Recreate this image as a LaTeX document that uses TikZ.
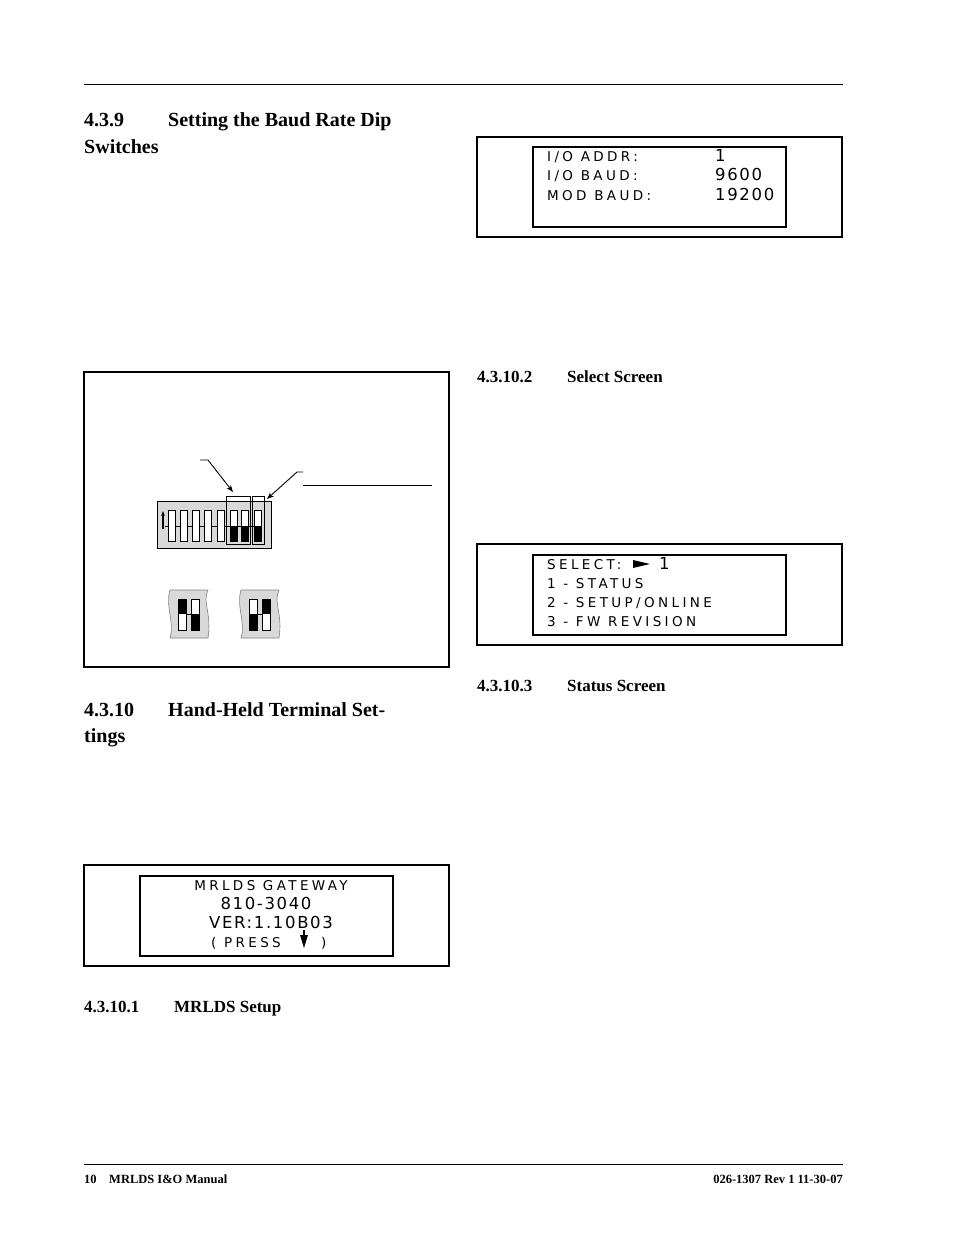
\documentclass[tikz,border=0pt]{standalone}
\usepackage{fontspec}
\usetikzlibrary{arrows.meta}
\setmainfont{Liberation Serif}
\newfontfamily\lcd[LetterSpace=25]{DejaVu Sans}
\newfontfamily\lcdn[LetterSpace=10]{DejaVu Sans}
\begin{document}
\begin{tikzpicture}[x=1pt,y=-1pt,
  head/.style={anchor=base west,font=\fontsize{20}{20}\selectfont\bfseries,inner sep=0},
  sub/.style={anchor=base west,font=\fontsize{17}{17}\selectfont\bfseries,inner sep=0},
  foot/.style={font=\fontsize{12.5}{12.5}\selectfont\bfseries,inner sep=0},
  lcdt/.style={anchor=base west,font=\fontsize{13.5}{13.5}\lcd,inner sep=0},
  lcdv/.style={anchor=base west,font=\fontsize{16.5}{16.5}\lcdn,inner sep=0},
  outer/.style={draw,line width=2pt},
  inner/.style={draw,line width=1.6pt},
  sw/.style={draw,fill=white,line width=0.8pt},
  bl/.style={fill=black}]
\useasboundingbox (0,0) rectangle (954,1235);
\draw[line width=0.8pt] (84,84) -- (843,84);
% headings
\node[head] (h1a) at (84,126) {4.3.9};
\node[head] (h1b) at (168,126) {Setting the Baud Rate Dip};
\node[head] (h1c) at (84,153) {Switches};
\node[head] (h2a) at (84,716) {4.3.10};
\node[head] (h2b) at (168,716) {Hand-Held Terminal Set-};
\node[head] (h2c) at (84,742) {tings};
\node[sub] (s1a) at (84,1012) {4.3.10.1};
\node[sub] (s1b) at (174,1012) {MRLDS Setup};
\node[sub] (s2a) at (477,382) {4.3.10.2};
\node[sub] (s2b) at (567,382) {Select Screen};
\node[sub] (s3a) at (477,691) {4.3.10.3};
\node[sub] (s3b) at (567,691) {Status Screen};
% footer
\draw[line width=0.8pt] (84,1164) -- (843,1164);
\node[foot,anchor=base west] (f1) at (84,1183) {10\quad MRLDS I\&O Manual};
\node[foot,anchor=base east] (f2) at (843,1183) {026-1307 Rev 1 11-30-07};
% box 1 (I/O)
\draw[outer] (477,137) rectangle (842,237);
\draw[inner] (533,147) rectangle (786,227);
\node[lcdt] (a1) at (547,161) {I/O ADDR:};
\node[lcdt] (a2) at (547,180) {I/O BAUD:};
\node[lcdt] (a3) at (547,200) {MOD BAUD:};
\node[lcdv] (v1) at (715,161) {1};
\node[lcdv] (v2) at (715,180) {9600};
\node[lcdv] (v3) at (715,200) {19200};
% select box
\draw[outer] (477,544) rectangle (842,645);
\draw[inner] (533,555) rectangle (786,635);
\node[lcdt] (b1) at (547,569) {SELECT:};
\fill (633,560) -- (650,564) -- (633,568) -- cycle;
\node[lcdv] (b1v) at (659,569) {1};
\node[lcdt] (b2) at (547,588) {1 - STATUS};
\node[lcdt] (b3) at (547,607) {2 - SETUP/ONLINE};
\node[lcdt] (b4) at (547,626) {3 - FW REVISION};
% gateway box
\draw[outer] (84,865) rectangle (449,966);
\draw[inner] (140,876) rectangle (393,956);
\node[lcdt,anchor=base] (g1) at (271,890) {MRLDS GATEWAY};
\node[lcdv,anchor=base] (g2) at (266,909) {810-3040};
\node[lcdv,anchor=base] (g3) at (271,928) {VER:1.10B03};
\node[lcdt,anchor=base west] (g4) at (211,947) {( PRESS};
\fill (300,935) -- (308,935) -- (304,948) -- cycle;
\draw[line width=1.6pt] (304,930) -- (304,940);
\node[lcdt,anchor=base west] (g5) at (321,947) {)};
% dip switch figure
\draw[outer] (84,372) rectangle (449,667);
\draw[fill=black!15,line width=0.8pt] (157,501) rectangle (271,548);
\draw[line width=0.8pt] (165,526) -- (262,526);
\foreach \x/\b in {168/0,180/0,192/0,204/0,217/0,230/1,241/1,254/1}{
  \draw[sw] (\x,510) rectangle +(7,31);
  \ifnum\b=1 \fill (\x,526) rectangle +(7,15); \fi
}
\draw[-{Stealth[length=5pt]},line width=1.2pt] (163,529) -- (163,511);
\draw[line width=0.8pt] (226,496) rectangle (250,544);
\draw[line width=0.8pt] (252,496) rectangle (264,544);
\coordinate (p1) at (233,492);
\coordinate (p2) at (267,499);
\draw[line width=0.9pt,-{Stealth[length=7pt]}] (200,460) -- (208,460) -- (p1);
\draw[line width=0.9pt,-{Stealth[length=7pt]}] (303,472) -- (297,472) -- (p2);
\draw[line width=1pt] (303,485) -- (432,485);
% small switch pieces
\foreach \ox/\ta/\tb in {170/1/0,241/0/1}{
  \draw[fill=black!15,draw=black!50,line width=0.6pt]
    (\ox,590) -- (\ox+38,590) .. controls (\ox+32,602) and (\ox+42,614) .. (\ox+38,638)
    -- (\ox,638) .. controls (\ox+5,624) and (\ox-5,606) .. (\ox,590);
  \draw[line width=0.6pt] (\ox+16,614) -- (\ox+21,614);
  \draw[sw] (\ox+8,599) rectangle +(8,31);
  \draw[sw] (\ox+21,599) rectangle +(8,31);
  \ifnum\ta=1 \fill (\ox+8,599) rectangle +(8,15); \else \fill (\ox+8,614) rectangle +(8,16); \fi
  \ifnum\tb=1 \fill (\ox+21,599) rectangle +(8,15); \else \fill (\ox+21,614) rectangle +(8,16); \fi
}
\end{tikzpicture}
\end{document}
